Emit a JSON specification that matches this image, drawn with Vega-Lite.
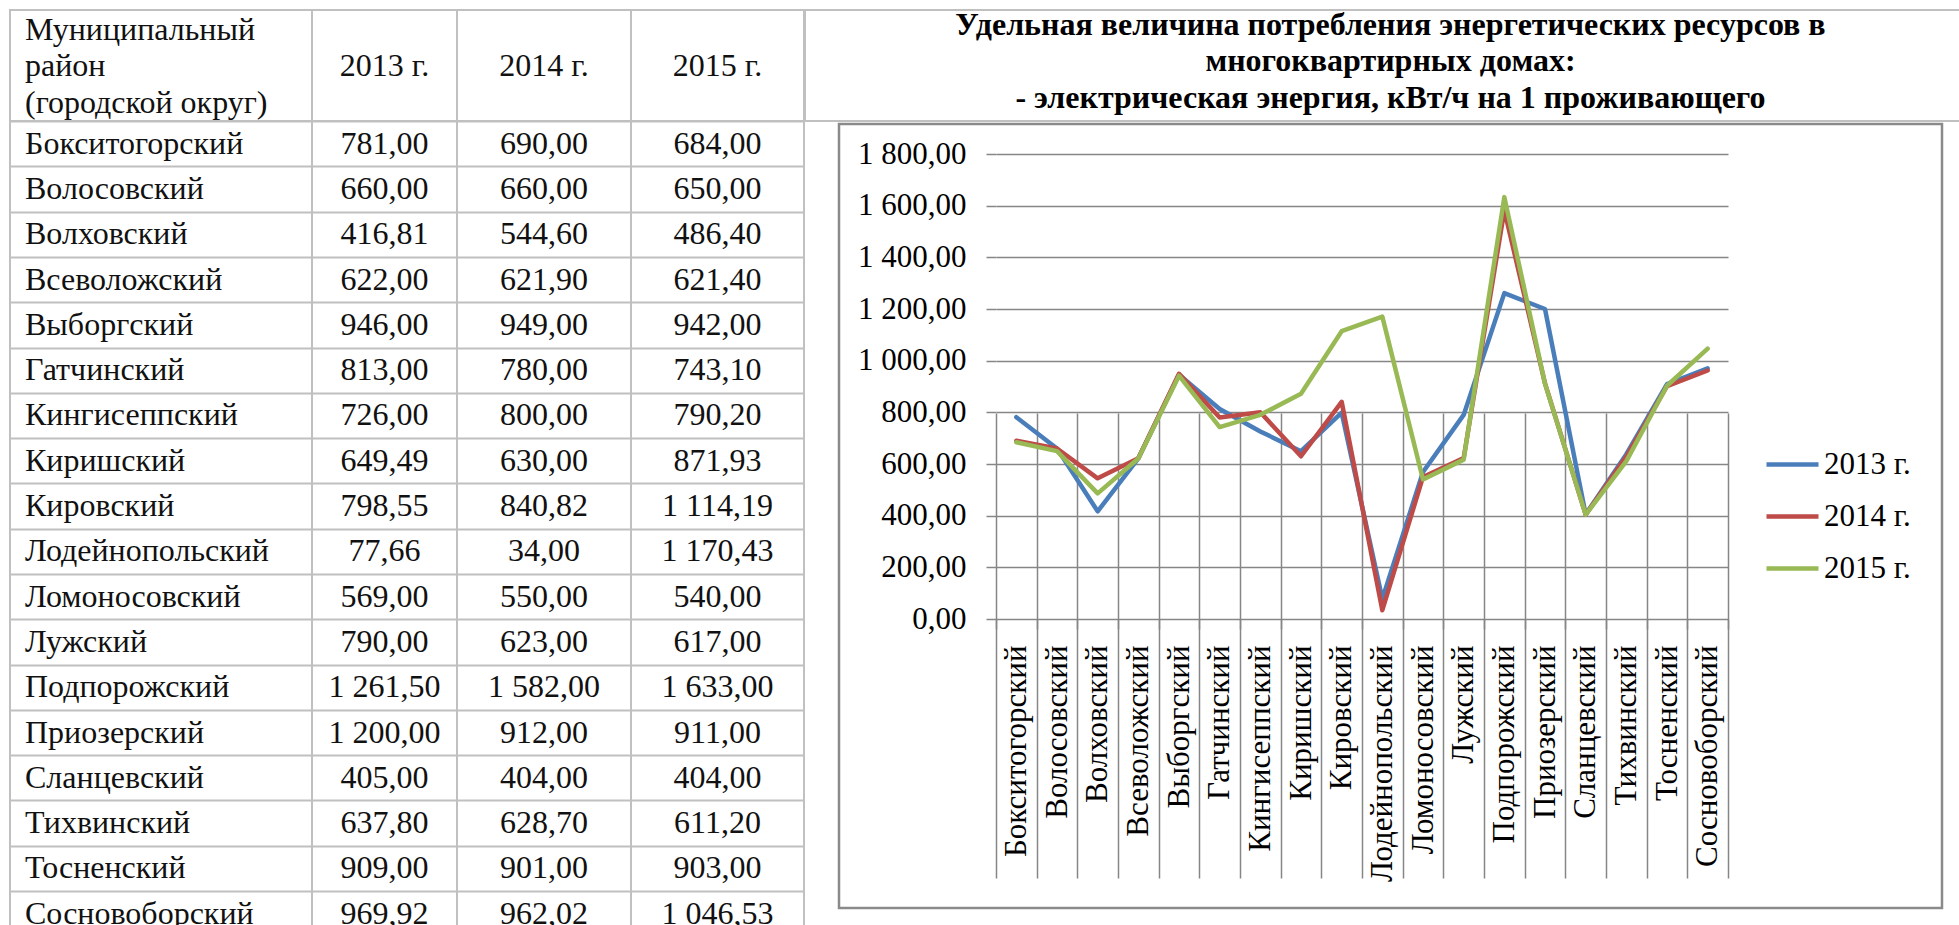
{
  "$schema": "https://vega.github.io/schema/vega-lite/v6.json",
  "background": "white",
  "padding": {"left": 9, "top": 7, "right": 0, "bottom": 0},
  "config": {
    "view": {"stroke": "#c0c0c0", "strokeWidth": 2},
    "locale": {"number": {"decimal": ",", "thousands": "\u00a0", "grouping": [3], "currency": ["", ""]}},
    "text": {"font": "Liberation Serif", "fontSize": 32, "fill": "#111"},
    "concat": {"spacing": 0}
  },
  "datasets": {
    "energy": [
      {"district": "Бокситогорский", "year": "2013 г.", "value": 781},
      {"district": "Волосовский", "year": "2013 г.", "value": 660},
      {"district": "Волховский", "year": "2013 г.", "value": 416.81},
      {"district": "Всеволожский", "year": "2013 г.", "value": 622},
      {"district": "Выборгский", "year": "2013 г.", "value": 946},
      {"district": "Гатчинский", "year": "2013 г.", "value": 813},
      {"district": "Кингисеппский", "year": "2013 г.", "value": 726},
      {"district": "Киришский", "year": "2013 г.", "value": 649.49},
      {"district": "Кировский", "year": "2013 г.", "value": 798.55},
      {"district": "Лодейнопольский", "year": "2013 г.", "value": 77.66},
      {"district": "Ломоносовский", "year": "2013 г.", "value": 569},
      {"district": "Лужский", "year": "2013 г.", "value": 790},
      {"district": "Подпорожский", "year": "2013 г.", "value": 1261.5},
      {"district": "Приозерский", "year": "2013 г.", "value": 1200},
      {"district": "Сланцевский", "year": "2013 г.", "value": 405},
      {"district": "Тихвинский", "year": "2013 г.", "value": 637.8},
      {"district": "Тосненский", "year": "2013 г.", "value": 909},
      {"district": "Сосновоборский", "year": "2013 г.", "value": 969.92},
      {"district": "Бокситогорский", "year": "2014 г.", "value": 690},
      {"district": "Волосовский", "year": "2014 г.", "value": 660},
      {"district": "Волховский", "year": "2014 г.", "value": 544.6},
      {"district": "Всеволожский", "year": "2014 г.", "value": 621.9},
      {"district": "Выборгский", "year": "2014 г.", "value": 949},
      {"district": "Гатчинский", "year": "2014 г.", "value": 780},
      {"district": "Кингисеппский", "year": "2014 г.", "value": 800},
      {"district": "Киришский", "year": "2014 г.", "value": 630},
      {"district": "Кировский", "year": "2014 г.", "value": 840.82},
      {"district": "Лодейнопольский", "year": "2014 г.", "value": 34},
      {"district": "Ломоносовский", "year": "2014 г.", "value": 550},
      {"district": "Лужский", "year": "2014 г.", "value": 623},
      {"district": "Подпорожский", "year": "2014 г.", "value": 1582},
      {"district": "Приозерский", "year": "2014 г.", "value": 912},
      {"district": "Сланцевский", "year": "2014 г.", "value": 404},
      {"district": "Тихвинский", "year": "2014 г.", "value": 628.7},
      {"district": "Тосненский", "year": "2014 г.", "value": 901},
      {"district": "Сосновоборский", "year": "2014 г.", "value": 962.02},
      {"district": "Бокситогорский", "year": "2015 г.", "value": 684},
      {"district": "Волосовский", "year": "2015 г.", "value": 650},
      {"district": "Волховский", "year": "2015 г.", "value": 486.4},
      {"district": "Всеволожский", "year": "2015 г.", "value": 621.4},
      {"district": "Выборгский", "year": "2015 г.", "value": 942},
      {"district": "Гатчинский", "year": "2015 г.", "value": 743.1},
      {"district": "Кингисеппский", "year": "2015 г.", "value": 790.2},
      {"district": "Киришский", "year": "2015 г.", "value": 871.93},
      {"district": "Кировский", "year": "2015 г.", "value": 1114.19},
      {"district": "Лодейнопольский", "year": "2015 г.", "value": 1170.43},
      {"district": "Ломоносовский", "year": "2015 г.", "value": 540},
      {"district": "Лужский", "year": "2015 г.", "value": 617},
      {"district": "Подпорожский", "year": "2015 г.", "value": 1633},
      {"district": "Приозерский", "year": "2015 г.", "value": 911},
      {"district": "Сланцевский", "year": "2015 г.", "value": 404},
      {"district": "Тихвинский", "year": "2015 г.", "value": 611.2},
      {"district": "Тосненский", "year": "2015 г.", "value": 903},
      {"district": "Сосновоборский", "year": "2015 г.", "value": 1046.53}
    ]
  },
  "spacing": -2,
  "hconcat": [
    {
      "columns": 4,
      "spacing": 0,
      "bounds": "flush",
      "concat": [
        {
          "width": 302, "height": 111,
          "data": {"values": [{"h": ["Муниципальный", "район", "(городской округ)"]}]},
          "mark": {"type": "text", "align": "left", "baseline": "alphabetic", "dx": 15, "dy": -26, "lineHeight": 36.5},
          "encoding": {
            "x": {"datum": 0, "type": "quantitative", "scale": {"domain": [0, 1]}, "axis": null},
            "text": {"field": "h", "type": "nominal"}
          }
        },
        {
          "width": 145, "height": 111,
          "data": {"values": [{"h": "2013 г."}]},
          "mark": {"type": "text"},
          "encoding": {
            "x": {"datum": 0.5, "type": "quantitative", "scale": {"domain": [0, 1]}, "axis": null},
            "text": {"field": "h", "type": "nominal"}
          }
        },
        {
          "width": 174, "height": 111,
          "data": {"values": [{"h": "2014 г."}]},
          "mark": {"type": "text"},
          "encoding": {
            "x": {"datum": 0.5, "type": "quantitative", "scale": {"domain": [0, 1]}, "axis": null},
            "text": {"field": "h", "type": "nominal"}
          }
        },
        {
          "width": 173, "height": 111,
          "data": {"values": [{"h": "2015 г."}]},
          "mark": {"type": "text"},
          "encoding": {
            "x": {"datum": 0.5, "type": "quantitative", "scale": {"domain": [0, 1]}, "axis": null},
            "text": {"field": "h", "type": "nominal"}
          }
        },
        {
          "width": 302, "height": {"step": 45.3},
          "data": {"name": "energy"},
          "transform": [{"filter": "datum.year === '2013 г.'"}],
          "mark": {"type": "text", "align": "left", "dx": 15},
          "encoding": {
            "x": {"datum": 0, "type": "quantitative", "scale": {"domain": [0, 1]}, "axis": null},
            "y": {"field": "district", "type": "nominal", "sort": null,
                  "scale": {"type": "band", "paddingInner": 0, "paddingOuter": 0},
                  "axis": {"title": null, "labels": false, "ticks": false, "domain": false, "grid": true, "gridColor": "#c0c0c0", "gridWidth": 2, "tickBand": "extent"}},
            "text": {"field": "district", "type": "nominal"}
          }
        },
        {
          "width": 145, "height": {"step": 45.3},
          "data": {"name": "energy"},
          "transform": [{"filter": "datum.year === '2013 г.'"}],
          "mark": {"type": "text"},
          "encoding": {
            "x": {"datum": 0.5, "type": "quantitative", "scale": {"domain": [0, 1]}, "axis": null},
            "y": {"field": "district", "type": "nominal", "sort": null,
                  "scale": {"type": "band", "paddingInner": 0, "paddingOuter": 0},
                  "axis": {"title": null, "labels": false, "ticks": false, "domain": false, "grid": true, "gridColor": "#c0c0c0", "gridWidth": 2, "tickBand": "extent"}},
            "text": {"field": "value", "type": "quantitative", "format": ",.2f"}
          }
        },
        {
          "width": 174, "height": {"step": 45.3},
          "data": {"name": "energy"},
          "transform": [{"filter": "datum.year === '2014 г.'"}],
          "mark": {"type": "text"},
          "encoding": {
            "x": {"datum": 0.5, "type": "quantitative", "scale": {"domain": [0, 1]}, "axis": null},
            "y": {"field": "district", "type": "nominal", "sort": null,
                  "scale": {"type": "band", "paddingInner": 0, "paddingOuter": 0},
                  "axis": {"title": null, "labels": false, "ticks": false, "domain": false, "grid": true, "gridColor": "#c0c0c0", "gridWidth": 2, "tickBand": "extent"}},
            "text": {"field": "value", "type": "quantitative", "format": ",.2f"}
          }
        },
        {
          "width": 173, "height": {"step": 45.3},
          "data": {"name": "energy"},
          "transform": [{"filter": "datum.year === '2015 г.'"}],
          "mark": {"type": "text"},
          "encoding": {
            "x": {"datum": 0.5, "type": "quantitative", "scale": {"domain": [0, 1]}, "axis": null},
            "y": {"field": "district", "type": "nominal", "sort": null,
                  "scale": {"type": "band", "paddingInner": 0, "paddingOuter": 0},
                  "axis": {"title": null, "labels": false, "ticks": false, "domain": false, "grid": true, "gridColor": "#c0c0c0", "gridWidth": 2, "tickBand": "extent"}},
            "text": {"field": "value", "type": "quantitative", "format": ",.2f"}
          }
        }
      ]
    },
    {
      "spacing": 3,
      "center": true,
      "bounds": "flush",
      "vconcat": [
        {
          "width": 1171, "height": 111,
          "data": {"values": [{"t": ["Удельная величина потребления энергетических ресурсов в", "многоквартирных домах:", "- электрическая энергия, кВт/ч на 1 проживающего"]}]},
          "mark": {"type": "text", "fontWeight": "bold", "fontSize": 32, "lineHeight": 36.5, "baseline": "alphabetic", "dy": -31, "fill": "#000"},
          "encoding": {
            "x": {"datum": 0.5, "type": "quantitative", "scale": {"domain": [0, 1]}, "axis": null},
            "text": {"field": "t", "type": "nominal"}
          }
        },
        {
          "width": 1103, "height": 784,
          "view": {"stroke": "#8a8a8a", "strokeWidth": 2.5},
          "data": {"name": "energy"},
          "mark": {"type": "line", "strokeWidth": 4.5, "strokeJoin": "round", "strokeCap": "round"},
          "encoding": {
            "x": {"field": "district", "type": "nominal", "sort": null,
                  "scale": {"type": "band", "range": [157, 889], "paddingInner": 0, "paddingOuter": 0},
                  "axis": {"title": null, "offset": -289, "tickBand": "extent", "grid": true, "gridColor": "#868686", "gridWidth": 1.5,
                           "ticks": true, "tickColor": "#868686", "tickWidth": 1.5, "tickSize": 10, "domain": false,
                           "labelAngle": -90, "labelFont": "Liberation Serif", "labelFontSize": 31, "labelColor": "#000",
                           "labelPadding": 16, "labelLimit": 400, "labelOverlap": false}},
            "y": {"field": "value", "type": "quantitative",
                  "scale": {"domain": [0, 1800], "nice": false, "zero": false, "range": [495, 30]},
                  "axis": {"title": null, "offset": -157, "values": [0, 200, 400, 600, 800, 1000, 1200, 1400, 1600, 1800], "format": ",.2f",
                           "grid": true, "gridColor": "#868686", "gridWidth": 1.5, "ticks": true, "tickColor": "#868686", "tickWidth": 1.5, "tickSize": 10,
                           "domain": false, "labelFont": "Liberation Serif", "labelFontSize": 31, "labelColor": "#000", "labelPadding": 20}},
            "color": {"field": "year", "type": "nominal",
                      "scale": {"domain": ["2013 г.", "2014 г.", "2015 г."], "range": ["#4A7EBB", "#BE4B48", "#98B954"]},
                      "legend": {"orient": "none", "legendX": 1754, "legendY": 426, "title": null, "symbolType": "stroke", "symbolSize": 2704,
                                 "symbolStrokeWidth": 4.5, "labelFont": "Liberation Serif", "labelFontSize": 31, "labelColor": "#000",
                                 "labelOffset": 3, "rowPadding": 8, "padding": 0}}
          }
        }
      ]
    }
  ]
}
